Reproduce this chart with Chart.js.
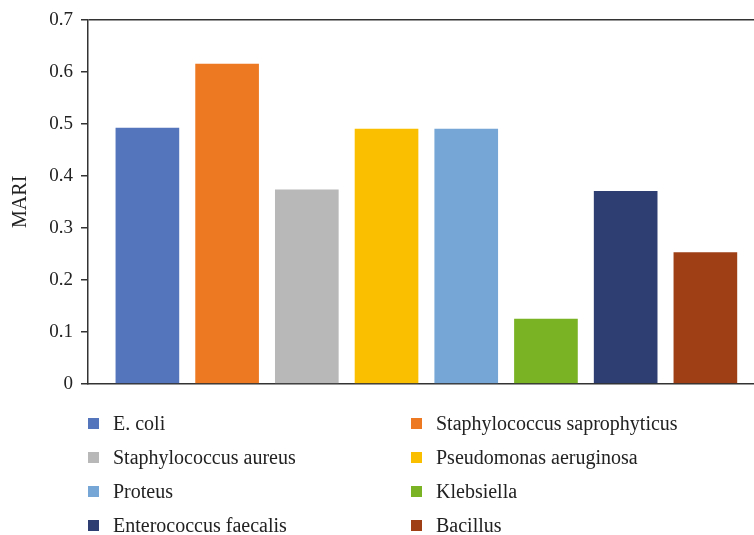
<!DOCTYPE html>
<html>
<head>
<meta charset="utf-8">
<script src="https://cdn.jsdelivr.net/npm/chart.js@4.4.0/dist/chart.umd.min.js"></script>
<style>
  body { margin: 0; background: #fff; }
  #wrap { position: relative; width: 754px; height: 535px; overflow: hidden; }
  #box { position: absolute; left: 0; top: 0; width: 754px; height: 403px; }
  #legend { position: absolute; left: 0; top: 0; width: 754px; height: 535px; pointer-events: none;
            font-family: "Liberation Serif", "DejaVu Serif", serif; font-size: 20px; color: #222; }
  .item { position: absolute; white-space: nowrap; height: 20px; display: flex; align-items: center; }
  .sw { display: inline-block; width: 11px; height: 11px; margin-right: 14px; }
</style>
</head>
<body>
<div id="wrap">
  <div id="box"><canvas id="mariChart"></canvas></div>
  <div id="legend"></div>
</div>
<script>
var categories = ['E. coli', 'Staphylococcus saprophyticus', 'Staphylococcus aureus', 'Pseudomonas aeruginosa',
                  'Proteus', 'Klebsiella', 'Enterococcus faecalis', 'Bacillus'];
var mariValues = [0.492, 0.615, 0.373, 0.490, 0.490, 0.124, 0.370, 0.252];
var barColors = ['#5474BC', '#ED7A23', '#B8B8B8', '#FAC000', '#75A6D6', '#7AB324', '#2E3E72', '#9E3F16'];
var yTicks = ['0', '0.1', '0.2', '0.3', '0.4', '0.5', '0.6', '0.7'];

var points = [];
for (var i = 0; i < mariValues.length; i++) {
    points.push({ x: i, y: mariValues[i] });
}

var serif = '"Liberation Serif", "DejaVu Serif", serif';

var ctx = document.getElementById('mariChart').getContext('2d');
var mariChart = new Chart(ctx, {
    type: 'bar',
    data: {
        datasets: [{
            label: 'MARI',
            data: points,
            backgroundColor: barColors,
            borderWidth: 0,
            barThickness: 63
        }]
    },
    options: {
        responsive: true,
        maintainAspectRatio: false,
        animation: false,
        layout: { padding: { left: 0, right: 0, top: 20, bottom: 5 } },
        plugins: { legend: { display: false }, tooltip: { enabled: false } },
        scales: {
            x: {
                type: 'linear',
                offset: false,
                min: -0.745,
                max: 7.61,
                ticks: { display: false, stepSize: 1 },
                grid: { display: false, drawTicks: false },
                border: { display: true, color: '#333', width: 1.5 }
            },
            y: {
                min: 0,
                max: 0.7,
                afterFit: function(scale) { scale.width = 88; },
                ticks: {
                    stepSize: 0.1,
                    padding: 8,
                    color: '#222',
                    font: { family: serif, size: 19 },
                    callback: function(value, index) { return yTicks[index]; }
                },
                grid: {
                    color: function(c) {
                        return (c.tick && Math.abs(c.tick.value - 0.7) < 1e-6) ? '#333' : 'rgba(0,0,0,0)';
                    },
                    tickColor: '#333',
                    tickLength: 7,
                    lineWidth: 1.5
                },
                border: { display: true, color: '#333', width: 1.5 },
                title: {
                    display: true,
                    text: 'MARI',
                    color: '#222',
                    padding: { top: 9, bottom: 0 },
                    font: { family: serif, size: 20 }
                }
            }
        }
    }
});

// two-column legend under the plot
var legend = document.getElementById('legend');
var colX = [88, 411];
var rowY = [413, 447, 481, 515];
for (var k = 0; k < categories.length; k++) {
    var div = document.createElement('div');
    div.className = 'item';
    div.style.left = colX[k % 2] + 'px';
    div.style.top = rowY[Math.floor(k / 2)] + 'px';
    div.innerHTML = '<span class="sw" style="background:' + barColors[k] + '"></span>' + categories[k];
    legend.appendChild(div);
}
</script>
</body>
</html>
